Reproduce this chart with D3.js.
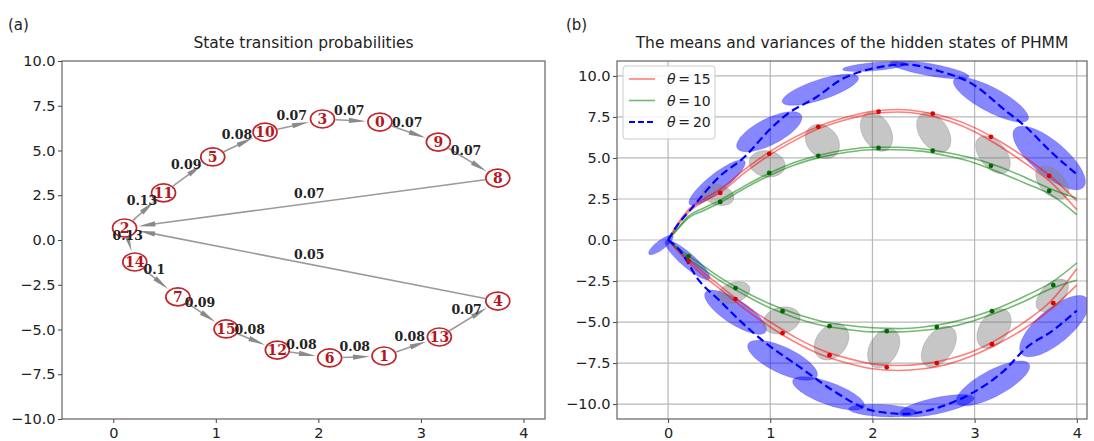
<!DOCTYPE html>
<html><head><meta charset="utf-8">
<script src="https://cdn.jsdelivr.net/npm/d3@7"></script>
<style>
body{margin:0;background:#fff}
text{font-family:"DejaVu Sans",sans-serif;fill:#222}
</style></head>
<body><svg id="c" width="1094" height="441"></svg>
<script>
// ---------------- data: panel (a) graph ----------------
const nodeIds = [0,1,2,3,4,5,6,7,8,9,10,11,12,13,14,15];
const nodeX = [2.60, 2.64, 0.11, 2.04, 3.75, 0.97, 2.11, 0.63, 3.75, 3.17, 1.48, 0.49, 1.60, 3.18, 0.21, 1.10];
const nodeY = [6.59, -6.48, 0.67, 6.76, -3.41, 4.64, -6.59, -3.18, 3.46, 5.47, 6.03, 2.63, -6.15, -5.42, -1.23, -4.97];
const edgeSource = [2, 11, 5, 10, 3, 0, 9, 8, 2, 14, 7, 15, 12, 6, 1, 13, 4];
const edgeTarget = [11, 5, 10, 3, 0, 9, 8, 2, 14, 7, 15, 12, 6, 1, 13, 4, 2];
const edgeProb   = [0.13, 0.09, 0.08, 0.07, 0.07, 0.07, 0.07, 0.07, 0.13, 0.1, 0.09, 0.08, 0.08, 0.08, 0.08, 0.07, 0.05];

// ---------------- data: panel (b) ----------------
const xTicks = [0, 1, 2, 3, 4];
const yTicks = [-10, -7.5, -5, -2.5, 0, 2.5, 5, 7.5, 10];
const curveX = [0,0.1,0.2,0.35,0.5,0.75,1,1.25,1.5,1.75,2,2.25,2.5,2.75,3,3.25,3.5,3.75,4];
const red15UpperA = [0,1.05,1.85,2.5,3.05,4.3,5.4,6.3,7.0,7.5,7.85,7.95,7.8,7.45,6.85,6.0,5.0,3.85,2.4];
const red15UpperB = [0,0.95,1.7,2.35,2.85,4.1,5.2,6.1,6.85,7.35,7.7,7.8,7.65,7.25,6.6,5.7,4.65,3.5,1.85];
const red15LowerA = [0,-0.65,-1.22,-2.0,-2.75,-3.95,-5.0,-5.95,-6.7,-7.2,-7.55,-7.65,-7.55,-7.25,-6.75,-5.95,-4.95,-3.7,-1.75];
const red15LowerB = [0,-0.7,-1.35,-2.2,-2.95,-4.2,-5.3,-6.25,-7.0,-7.5,-7.85,-7.95,-7.85,-7.55,-7.0,-6.25,-5.35,-4.2,-2.75];
const green10UpperA = [0,0.75,1.45,1.95,2.4,3.3,4.1,4.75,5.2,5.5,5.65,5.65,5.55,5.3,4.95,4.45,3.8,3.1,2.55];
const green10UpperB = [0,0.7,1.35,1.8,2.25,3.15,3.95,4.6,5.05,5.35,5.5,5.5,5.4,5.1,4.7,4.1,3.45,2.75,1.55];
const green10LowerA = [0,-0.5,-0.95,-1.6,-2.25,-3.15,-3.9,-4.5,-4.95,-5.2,-5.35,-5.4,-5.3,-5.05,-4.65,-4.1,-3.4,-2.6,-1.4];
const green10LowerB = [0,-0.6,-1.15,-1.8,-2.45,-3.35,-4.15,-4.75,-5.2,-5.45,-5.6,-5.6,-5.5,-5.3,-4.9,-4.35,-3.7,-2.95,-2.45];
const blue20UpperX = [0,0.08,0.24,0.5,0.75,0.99,1.15,1.45,1.7,2.0,2.32,2.65,2.98,3.3,3.5,3.76,4.0];
const blue20UpperY = [0,0.8,2.0,3.85,5.07,6.7,7.6,8.7,9.8,10.45,10.7,10.3,9.5,7.9,6.9,5.3,4.0];
const blue20LowerX = [0,0.11,0.3,0.5,0.7,0.96,1.29,1.62,2.0,2.32,2.65,2.97,3.3,3.5,3.77,4.0];
const blue20LowerY = [0,-0.6,-2.45,-3.67,-4.9,-6.3,-7.75,-9.2,-10.4,-10.6,-10.2,-9.35,-7.9,-6.6,-5.5,-4.3];
const redDotX = [0.51,0.99,1.47,2.06,2.59,3.16,3.73, 0.2,0.66,1.12,1.58,2.14,2.63,3.17,3.77];
const redDotY = [2.87,5.25,6.9,7.82,7.7,6.29,3.91, -1.28,-3.6,-5.68,-7.02,-7.76,-7.5,-6.35,-3.85];
const greenDotX = [0.51,0.99,1.47,2.06,2.59,3.16,3.73, 0.2,0.66,1.12,1.58,2.14,2.63,3.17,3.77];
const greenDotY = [2.32,4.09,5.13,5.62,5.44,4.52,2.99, -0.98,-2.93,-4.34,-5.25,-5.56,-5.31,-4.34,-2.75];
// gaussian states (mean, sd, correlation)
const grayX = [0.49,0.97,1.51,2.04,2.60,3.18,3.76, 0.64,1.11,1.60,2.11,2.65,3.19,3.76];
const grayY = [2.75,4.64,6.00,6.60,6.55,5.20,3.50, -3.22,-4.90,-6.20,-6.60,-6.50,-5.40,-3.37];
const graySdX = [.153,.175,.167,.157,.167,.169,.161, .160,.182,.169,.157,.171,.167,.158];
const graySdY = [.642,.805,1.046,1.190,1.205,1.149,1.007, .675,.824,1.106,1.190,1.251,1.205,.986];
const grayRho = [-.237,-.113,-.232,-.339,-.402,-.477,-.471, .336,.191,.276,.339,.437,.402,.536];
const blueX = [-0.07,0.48,0.99,1.49,2.02,2.56,3.16,3.73, 0.19,0.66,1.12,1.57,2.10,2.63,3.18,3.78];
const blueY = [-0.30,3.50,6.60,9.16,10.57,10.38,8.55,5.00, -1.22,-4.40,-7.33,-9.35,-10.40,-10.10,-8.74,-5.25];
const blueSdX = [.120,.275,.319,.373,.312,.385,.367,.354, .219,.302,.341,.351,.332,.364,.359,.339];
const blueSdY = [.594,1.386,1.224,.953,.297,.557,1.366,1.937, 1.206,1.347,1.218,1.014,.382,.679,1.368,1.866];
const blueRho = [.825,.870,.698,.740,.564,-.744,-.800,-.745, -.889,-.773,-.703,-.713,-.276,.679,.762,.724];
const legendLabels = ["θ = 15", "θ = 10", "θ = 20"];

// ---------------- drawing ----------------
const svg = d3.select("#c");
const fmt = d3.format(".1f");

function frameAxes(g, x, y, grid) {
  const [x0, x1] = x.range(), [y0, y1] = y.range();
  if (grid) {
    g.append("g").selectAll("line").data(xTicks).join("line")
      .attr("x1", d => x(d)).attr("x2", d => x(d)).attr("y1", y0).attr("y2", y1)
      .attr("stroke", "#b8b8b8").attr("stroke-width", 1.2);
    g.append("g").selectAll("line").data(yTicks).join("line")
      .attr("y1", d => y(d)).attr("y2", d => y(d)).attr("x1", x0).attr("x2", x1)
      .attr("stroke", "#b8b8b8").attr("stroke-width", 1.2);
  }
  const ax = g.append("g").attr("transform", `translate(0,${y0})`)
    .call(d3.axisBottom(x).tickValues(xTicks).tickFormat(d3.format("d")).tickSize(4).tickPadding(5));
  const ay = g.append("g").attr("transform", `translate(${x0},0)`)
    .call(d3.axisLeft(y).tickValues(yTicks).tickFormat(fmt).tickSize(4).tickPadding(2.5));
  [ax, ay].forEach(a => {
    a.select(".domain").remove();
    a.selectAll(".tick line").attr("stroke", "#444");
    a.selectAll(".tick text").style("font-size", "14.5px").style("font-family", "DejaVu Sans").attr("fill", "#222");
  });
}
function frameRect(g, x, y) {
  const [x0, x1] = x.range(), [y0, y1] = y.range();
  g.append("rect").attr("x", x0).attr("y", y1).attr("width", x1 - x0).attr("height", y0 - y1)
    .attr("fill", "none").attr("stroke", "#555").attr("stroke-width", 1.1);
}

// labels
svg.append("text").attr("x", 8).attr("y", 30).text("(a)").style("font-size", "15px");
svg.append("text").attr("x", 566).attr("y", 30).text("(b)").style("font-size", "15px");

// ---- panel (a)
const xL = d3.scaleLinear().domain([-0.5, 4.21]).range([62, 545]);
const yL = d3.scaleLinear().domain([-10, 10]).range([419, 61]);
const gA = svg.append("g");
gA.append("text").attr("x", (62 + 545) / 2).attr("y", 48).attr("text-anchor", "middle")
  .style("font-size", "15.5px").text("State transition probabilities");
frameAxes(gA, xL, yL, false);

const RX = 12, RY = 9;
const P = i => [xL(nodeX[i]), yL(nodeY[i])];
function rEll(ux, uy) { return 1 / Math.sqrt((ux / RX) ** 2 + (uy / RY) ** 2); }
const edgeG = gA.append("g");
edgeSource.forEach((s, k) => {
  const t = edgeTarget[k];
  const [sx, sy] = P(s), [tx, ty] = P(t);
  const L = Math.hypot(tx - sx, ty - sy), ux = (tx - sx) / L, uy = (ty - sy) / L;
  const rs = rEll(ux, uy) + 1, rt = rEll(ux, uy) + 2;
  const ax = sx + ux * rs, ay = sy + uy * rs;
  const tipx = tx - ux * rt, tipy = ty - uy * rt;
  const hl = 17, hw = 2.6;
  const bx = tipx - ux * hl, by = tipy - uy * hl;
  edgeG.append("line").attr("x1", ax).attr("y1", ay).attr("x2", bx + ux * 3).attr("y2", by + uy * 3)
    .attr("stroke", "#9a9a9a").attr("stroke-width", 1.6);
  edgeG.append("path")
    .attr("d", `M${tipx},${tipy}L${bx - uy * hw},${by + ux * hw}L${bx + uy * hw},${by - ux * hw}Z`)
    .attr("fill", "#8a8a8a");
});
const nodeG = gA.append("g").selectAll("g").data(nodeIds).join("g")
  .attr("transform", d => `translate(${xL(nodeX[d])},${yL(nodeY[d])})`);
nodeG.append("ellipse").attr("rx", RX).attr("ry", RY).attr("fill", "#fff")
  .attr("stroke", "#c0262c").attr("stroke-width", 1.7);
nodeG.append("text").attr("text-anchor", "middle").attr("dy", "0.36em")
  .style("font-family", "DejaVu Serif").style("font-weight", "bold").style("font-size", "14px")
  .attr("fill", "#b4161c").style("fill", "#b4161c").text(d => d);
const labG = gA.append("g");
edgeSource.forEach((s, k) => {
  const t = edgeTarget[k];
  const [sx, sy] = P(s), [tx, ty] = P(t);
  const mx = (sx + tx) / 2 - 2, my = (sy + ty) / 2 - 10;
  labG.append("text").attr("x", mx).attr("y", my).attr("dy", "0.36em")
    .attr("text-anchor", "middle")
    .style("font-family", "DejaVu Serif").style("font-weight", "bold").style("font-size", "12.5px")
    .text(String(edgeProb[k]));
});
frameRect(gA, xL, yL);

// ---- panel (b)
const xR = d3.scaleLinear().domain([-0.5, 4.1]).range([617, 1087]);
const yR = d3.scaleLinear().domain([-10.91, 10.91]).range([419, 61]);
const gB = svg.append("g");
gB.append("text").attr("x", (617 + 1087) / 2).attr("y", 48).attr("text-anchor", "middle")
  .style("font-size", "15.5px").text("The means and variances of the hidden states of PHMM");
svg.append("clipPath").attr("id", "clipB").append("rect")
  .attr("x", 617).attr("y", 61).attr("width", 470).attr("height", 358);
frameAxes(gB, xR, yR, true);
const plotB = gB.append("g").attr("clip-path", "url(#clipB)");

const thetas = d3.range(0, 64).map(i => i / 64 * 2 * Math.PI);
function ellPath(cx, cy, sx, sy, rho) {
  const pts = thetas.map(t => [xR(cx + sx * Math.cos(t)),
    yR(cy + sy * (rho * Math.cos(t) + Math.sqrt(1 - rho * rho) * Math.sin(t)))]);
  return d3.line().curve(d3.curveLinearClosed)(pts);
}
plotB.append("g").selectAll("path").data(blueX.map((d, i) => i)).join("path")
  .attr("d", i => ellPath(blueX[i], blueY[i], blueSdX[i], blueSdY[i], blueRho[i]))
  .attr("fill", "#0000ff").attr("fill-opacity", 0.47).attr("stroke", "#0000ff").attr("stroke-opacity", 0.2);
plotB.append("g").selectAll("path").data(grayX.map((d, i) => i)).join("path")
  .attr("d", i => ellPath(grayX[i], grayY[i], graySdX[i], graySdY[i], grayRho[i]))
  .attr("fill", "#808080").attr("fill-opacity", 0.45).attr("stroke", "#808080").attr("stroke-opacity", 0.35);

const lineGen = d3.line().x(d => xR(d[0])).y(d => yR(d[1])).curve(d3.curveMonotoneX);
const redSeries = [red15UpperA, red15UpperB, red15LowerA, red15LowerB];
const greenSeries = [green10UpperA, green10UpperB, green10LowerA, green10LowerB];
redSeries.forEach(s => plotB.append("path").attr("d", lineGen(curveX.map((x, i) => [x, s[i]])))
  .attr("fill", "none").attr("stroke", "#ff0000").attr("stroke-opacity", 0.5).attr("stroke-width", 1.6));
greenSeries.forEach(s => plotB.append("path").attr("d", lineGen(curveX.map((x, i) => [x, s[i]])))
  .attr("fill", "none").attr("stroke", "#008000").attr("stroke-opacity", 0.55).attr("stroke-width", 1.6));
[[blue20UpperX, blue20UpperY], [blue20LowerX, blue20LowerY]].forEach(([xs, ys]) =>
  plotB.append("path").attr("d", lineGen(xs.map((x, i) => [x, ys[i]])))
    .attr("fill", "none").attr("stroke", "#0000ff").attr("stroke-width", 2.2).attr("stroke-dasharray", "8,4"));
plotB.append("g").selectAll("circle").data(redDotX.map((d, i) => i)).join("circle")
  .attr("cx", i => xR(redDotX[i])).attr("cy", i => yR(redDotY[i])).attr("r", 2.4).attr("fill", "#e00000");
plotB.append("g").selectAll("circle").data(greenDotX.map((d, i) => i)).join("circle")
  .attr("cx", i => xR(greenDotX[i])).attr("cy", i => yR(greenDotY[i])).attr("r", 2.4).attr("fill", "#006a00");

// legend
const lg = gB.append("g").attr("transform", "translate(623,66)");
lg.append("rect").attr("width", 92).attr("height", 73).attr("rx", 3)
  .attr("fill", "#fff").attr("fill-opacity", 0.85).attr("stroke", "#cccccc");
const legStyles = [
  {c: "#ff0000", o: 0.5, dash: null, w: 1.6},
  {c: "#008000", o: 0.55, dash: null, w: 1.6},
  {c: "#0000ff", o: 1, dash: "6,3", w: 2.2}];
legendLabels.forEach((lab, i) => {
  const yy = 13 + i * 21.5;
  lg.append("line").attr("x1", 6).attr("x2", 32).attr("y1", yy).attr("y2", yy)
    .attr("stroke", legStyles[i].c).attr("stroke-opacity", legStyles[i].o)
    .attr("stroke-width", legStyles[i].w).attr("stroke-dasharray", legStyles[i].dash);
  const t = lg.append("text").attr("x", 44).attr("y", yy).attr("dy", "0.36em").style("font-size", "14px");
  const parts = lab.split(" ");
  t.append("tspan").style("font-style", "italic").text(parts[0]);
  t.append("tspan").text("\u2009" + parts[1] + "\u2009" + parts[2]);
});
frameRect(gB, xR, yR);
</script></body></html>
